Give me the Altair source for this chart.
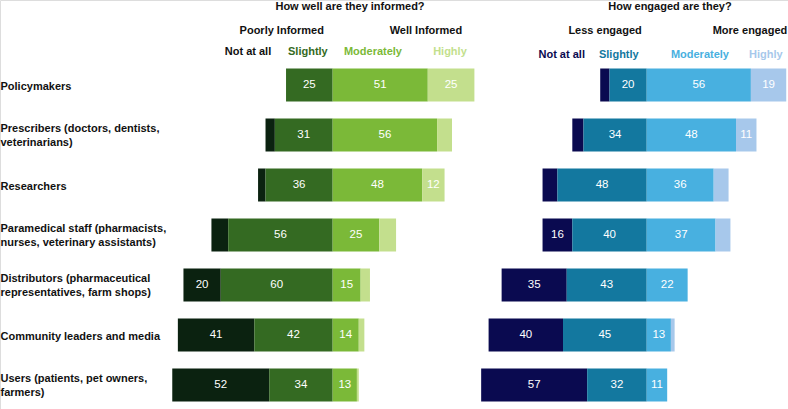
import altair as alt
import pandas as pd

# Stakeholder groups ("|" marks a line break in the axis label)
groups = [
    "Policymakers",
    "Prescribers (doctors, dentists,|veterinarians)",
    "Researchers",
    "Paramedical staff (pharmacists,|nurses, veterinary assistants)",
    "Distributors (pharmaceutical|representatives, farm shops)",
    "Community leaders and media",
    "Users (patients, pet owners,|farmers)",
]
levels = ["Not at all", "Slightly", "Moderately", "Highly"]

# How well are they informed? (% of respondents)
informed_not = [0, 5, 4, 9, 20, 41, 52]
informed_slightly = [25, 31, 36, 56, 60, 42, 34]
informed_moderately = [51, 56, 48, 25, 15, 14, 13]
informed_highly = [25, 8, 12, 9, 5, 3, 1]

# How engaged are they? (% of respondents)
engaged_not = [5, 6, 8, 16, 35, 40, 57]
engaged_slightly = [20, 34, 48, 40, 43, 45, 32]
engaged_moderately = [56, 48, 36, 37, 22, 13, 11]
engaged_highly = [19, 11, 8, 8, 0, 2, 0]

green_colors = ["#0b2210", "#346a22", "#7bb938", "#c3df8d"]
blue_colors = ["#0a0a50", "#13789f", "#48b0e0", "#a7c8eb"]
green_header_colors = ["#111111", "#346a22", "#7bb938", "#c3df8d"]

FONT = "Liberation Sans, Arial, sans-serif"
HEAD_SIZE = 11
LABEL_SIZE = 11


def diverging_table(nots, slights, mods, highs):
    """Stack the two negative levels left of zero and the two positive ones right of it."""
    rows = []
    for g, n, s, m, h in zip(groups, nots, slights, mods, highs):
        rows.append(dict(group=g, level="Not at all", value=n, start=-(s + n), end=-s))
        rows.append(dict(group=g, level="Slightly", value=s, start=-s, end=0))
        rows.append(dict(group=g, level="Moderately", value=m, start=0, end=m))
        rows.append(dict(group=g, level="Highly", value=h, start=m, end=m + h))
    df = pd.DataFrame(rows)
    df["mid"] = (df["start"] + df["end"]) / 2
    return df


y_scale = alt.Scale(domain=groups, range=[60, 410], paddingInner=0.34, paddingOuter=0.17)
# two-line labels are lifted so the pair sits centred on its bar
y_axis = alt.Axis(
    title=None, domain=False, ticks=False, tickSize=0, labelPadding=0,
    labelAlign="left", labelBaseline="middle", labelFont=FONT, labelFontSize=LABEL_SIZE,
    labelFontWeight="bold", labelColor="#111111", labelLimit=0, labelLineHeight=14.5,
    labelExpr="split(datum.label, '|')",
    labelOffset={"condition": {"test": "indexof(datum.value, '|') >= 0", "value": -6.5}, "value": 1.5},
)


def panel(df, x_scale, colors, header_colors, title, low, high, headers):
    y_enc = alt.Y("group:N", scale=y_scale, axis=y_axis)
    base = alt.Chart(df)
    bars = base.mark_bar().encode(
        x=alt.X("start:Q", scale=x_scale, axis=None),
        x2="end:Q",
        y=y_enc,
        color=alt.Color("level:N", scale=alt.Scale(domain=levels, range=colors), legend=None),
    )
    values = base.transform_filter("datum.value >= 10").mark_text(
        font=FONT, fontSize=11.5, color="white", baseline="middle"
    ).encode(
        x=alt.X("mid:Q", scale=x_scale, axis=None),
        y=y_enc,
        text="value:Q",
    )
    one = pd.DataFrame({"k": [0]})

    def label(text, xval, ypx, color):
        return alt.Chart(one).mark_text(
            text=text, font=FONT, fontSize=HEAD_SIZE, fontWeight="bold", color=color,
            baseline="middle", align="center",
        ).encode(x=alt.datum(xval, scale=x_scale), y=alt.value(ypx))

    parts = [bars, values, label(title[0], title[1], 7, "#111111"),
             label(low[0], low[1], 31, "#111111"), label(high[0], high[1], 31, "#111111")]
    for (txt, xv, ypx), col in zip(headers, header_colors):
        parts.append(label(txt, xv, ypx, col))
    return alt.layer(*parts)


left_scale = alt.Scale(domain=[-87, 76], range=[170.4, 474.4], nice=False, zero=False)
right_scale = alt.Scale(domain=[-90, 76], range=[479.3, 788.1], nice=False, zero=False)

left = panel(
    diverging_table(informed_not, informed_slightly, informed_moderately, informed_highly),
    left_scale, green_colors, green_header_colors,
    ("How well are they informed?", 9.3), ("Poorly Informed", -27.3), ("Well Informed", 50),
    [("Not at all", -45.4, 52), ("Slightly", -13.3, 52), ("Moderately", 21.6, 52), ("Highly", 62.9, 52)],
)
right = panel(
    diverging_table(engaged_not, engaged_slightly, engaged_moderately, engaged_highly),
    right_scale, blue_colors, blue_colors,
    ("How engaged are they?", 12.5), ("Less engaged", -22.4), ("More engaged", 55.5),
    [("Not at all", -45.7, 55), ("Slightly", -15, 55), ("Moderately", 28.6, 55), ("Highly", 64, 55)],
)

chart = (
    alt.layer(left, right)
    .resolve_scale(x="independent", color="independent")
    .properties(width=788, height=409, padding=0, autosize=alt.AutoSizeParams(type="none"))
    .configure_view(stroke=None)
    .configure(background="white")
)

chart.save("out.html", embed_options={"renderer": "svg", "actions": False})
